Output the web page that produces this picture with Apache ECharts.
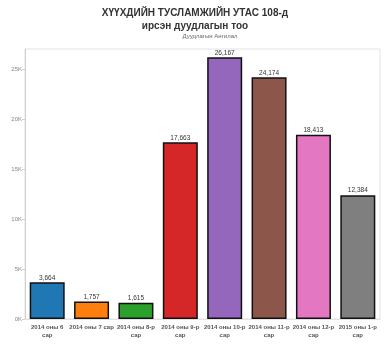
<!DOCTYPE html>
<html><head><meta charset="utf-8">
<script src="https://cdn.jsdelivr.net/npm/echarts@6/dist/echarts.min.js"></script>
<style>html,body{margin:0;padding:0;background:#fff}#c{width:386px;height:349px}</style>
</head><body><div id="c"></div>
<script>
const categories = ["2014 оны 6\nсар","2014 оны 7 сар","2014 оны 8-р\nсар","2014 оны 9-р\nсар","2014 оны 10-р\nсар","2014 оны 11-р\nсар","2014 оны 12-р\nсар","2015 оны 1-р\nсар"];
const calls = [3664, 1757, 1615, 17663, 26167, 24174, 18413, 12384];
const colors = ["#1f77b4","#ff7f0e","#2ca02c","#d62728","#9467bd","#8c564b","#e377c2","#7f7f7f"];
const yTicks = [0, 5000, 10000, 15000, 20000, 25000];

const FF = 'Liberation Sans, Arial, sans-serif';
const chart = echarts.init(document.getElementById('c'));
chart.setOption({
  animation: false,
  title: [{
    text: "ХҮҮХДИЙН ТУСЛАМЖИЙН УТАС 108-д\nирсэн дуудлагын тоо",
    left: 190, textAlign: 'center', top: 2,
    textStyle: {fontSize: 10, fontWeight: 'bold', color: '#333', lineHeight: 13, fontFamily: FF}
  },{
    text: "Дуудлагын Ангилал",
    left: 205, textAlign: 'center', top: 28,
    textStyle: {fontSize: 6, fontWeight: 'normal', color: '#666', fontFamily: FF}
  }],
  grid: {left: 25, right: 6, top: 49, bottom: 30, show: true, borderColor: '#e3e3e3', borderWidth: 1, containLabel: false, outerBoundsMode: 'none'},
  xAxis: {
    type: 'category', data: categories,
    axisLine: {show: true, lineStyle: {color: '#e3e3e3'}},
    axisTick: {show: false},
    axisLabel: {interval: 0, fontSize: 6, fontWeight: 'bold', color: '#555', lineHeight: 8, margin: 4, fontFamily: FF}
  },
  yAxis: {
    type: 'value', min: 0, max: 27000, interval: 5000,
    name: 'Нийт Дуудлага', nameLocation: 'middle', nameGap: 15,
    nameTextStyle: {fontSize: 6, color: '#666', fontFamily: FF},
    axisLine: {show: true, lineStyle: {color: '#d0d0d0'}},
    axisTick: {show: true, length: 3, lineStyle: {color: '#d0d0d0'}},
    splitLine: {show: false},
    axisLabel: {fontSize: 6, color: '#888', margin: 3, showMaxLabel: false,
      formatter: v => yTicks.indexOf(v) >= 0 ? (v/1000) + 'K' : '', fontFamily: FF}
  },
  series: [{
    type: 'bar', barWidth: 35,
    data: calls.map((v, i) => ({value: v, itemStyle: {color: colors[i]}})),
    itemStyle: {borderColor: '#111', borderWidth: 1.5},
    label: {show: true, position: 'top', distance: 1, fontSize: 6.5, color: '#333',
      formatter: p => p.value.toLocaleString('en-US'), fontFamily: FF}
  }]
});
</script></body></html>
